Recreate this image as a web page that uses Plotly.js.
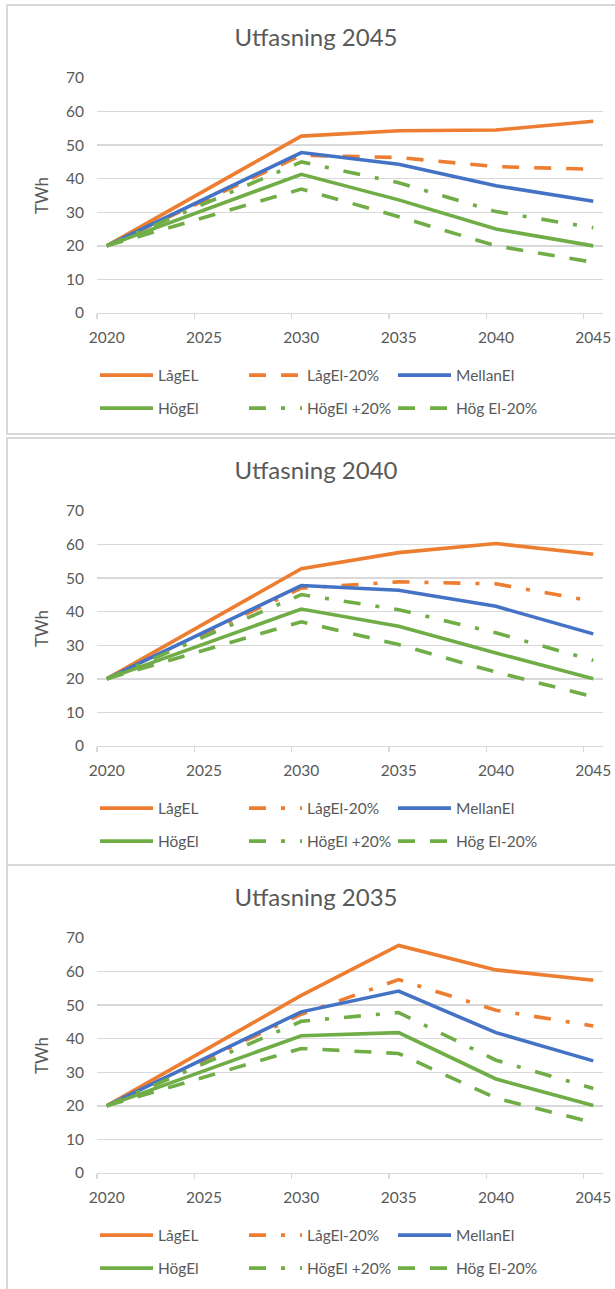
<!DOCTYPE html>
<html>
<head>
<meta charset="utf-8">
<script src="https://cdn.plot.ly/plotly-3.0.1.min.js"></script>
<style>
  html, body { margin: 0; padding: 0; background: #ffffff; }
  body { width: 615px; height: 1289px; overflow: hidden; position: relative; }
  .panel { position: absolute; left: 6px; width: 622px; border: 2px solid #d9d9d9; box-sizing: border-box; background: #fff; overflow: hidden; }
  .chart { position: absolute; left: 0; top: 0; }
</style>
</head>
<body>
<div class="panel" id="p1" style="top:4px;height:431px;"><div class="chart" id="c1"></div></div>
<div class="panel" id="p2" style="top:437px;height:429px;"><div class="chart" id="c2"></div></div>
<div class="panel" id="p3" style="top:864px;height:440px;"><div class="chart" id="c3"></div></div>
<script>
// ---- Data ----
const years = [2020, 2030, 2035, 2040, 2045];
const tickYears = [2020, 2025, 2030, 2035, 2040, 2045];
const yTicks = [0, 10, 20, 30, 40, 50, 60, 70];
const seriesNames = ["LågEL", "LågEl-20%", "MellanEl", "HögEl", "HögEl +20%", "Hög El-20%"];
const panelTitles = ["Utfasning 2045", "Utfasning 2040", "Utfasning 2035"];

// Utfasning 2045
const u2045_lagEL        = [20, 52.7, 54.3, 54.5, 57.1];
const u2045_lagEl20      = [20, 47.0, 46.3, 43.6, 42.8];
const u2045_mellanEl     = [20, 47.8, 44.3, 37.9, 33.3];
const u2045_hogEl        = [20, 41.3, 33.7, 25.0, 20.0];
const u2045_hogElPlus20  = [20, 45.0, 38.8, 30.2, 25.4];
const u2045_hogElMinus20 = [20, 36.9, 28.7, 20.0, 15.1];

// Utfasning 2040
const u2040_lagEL        = [20, 52.8, 57.6, 60.3, 57.1];
const u2040_lagEl20      = [20, 47.0, 48.9, 48.3, 43.1];
const u2040_mellanEl     = [20, 47.8, 46.4, 41.6, 33.4];
const u2040_hogEl        = [20, 40.8, 35.7, 27.7, 20.0];
const u2040_hogElPlus20  = [20, 45.1, 40.6, 33.7, 25.5];
const u2040_hogElMinus20 = [20, 37.0, 30.2, 22.0, 14.7];

// Utfasning 2035
const u2035_lagEL        = [20, 52.9, 67.8, 60.5, 57.4];
const u2035_lagEl20      = [20, 47.3, 57.6, 48.5, 43.8];
const u2035_mellanEl     = [20, 48.0, 54.2, 41.8, 33.4];
const u2035_hogEl        = [20, 40.9, 41.8, 28.0, 20.1];
const u2035_hogElPlus20  = [20, 45.2, 47.8, 33.6, 25.2];
const u2035_hogElMinus20 = [20, 37.1, 35.6, 22.3, 15.0];

// ---- Styles ----
const ORANGE = "#ED7D31", BLUE = "#4472C4", GREEN = "#70AD47";
const TXT = "#595959", GRID = "#D9D9D9";
const FONT = "Lato, 'Open Sans', sans-serif";
const DASH = "17px,15px";
const DASHDOT = "17px,15px,4px,15px";
const LW = 3.6;

function makeTraces(vals, lagDash) {
  const colors = [ORANGE, ORANGE, BLUE, GREEN, GREEN, GREEN];
  const dashes = ["solid", lagDash, "solid", "solid", DASHDOT, DASH];
  return vals.map((v, i) => ({
    type: "scatter", mode: "lines", x: years, y: v, name: seriesNames[i],
    line: { color: colors[i], width: LW, dash: dashes[i] },
    legend: i < 3 ? "legend" : "legend2",
    hoverinfo: "skip"
  }));
}

const W = 620;
function makeLayout(title, h) {
  const t = 72, ph = 235;
  const legCommon = {
    orientation: "h", xref: "container", yref: "container",
    xanchor: "left", yanchor: "middle", x: 87 / W,
    entrywidthmode: "pixels", entrywidth: 81, itemwidth: 53,
    font: { family: FONT, size: 15.5, color: TXT },
    bgcolor: "rgba(0,0,0,0)", traceorder: "normal", tracegroupgap: 0
  };
  return {
    width: W, height: h,
    margin: { l: 89, r: W - 89 - 506, t: t, b: h - t - ph, pad: 0 },
    paper_bgcolor: "#ffffff", plot_bgcolor: "#ffffff",
    font: { family: FONT, size: 15.5, color: TXT },
    title: { text: title, xref: "container", x: 308 / W, xanchor: "center",
             yref: "container", y: 1 - 32 / h, yanchor: "middle",
             font: { family: FONT, size: 24, color: TXT } },
    xaxis: {
      type: "linear", range: [2019.5, 2045.5], tickmode: "array", tickvals: tickYears,
      ticktext: tickYears.map(String), ticks: "", showgrid: false, zeroline: false,
      showline: true, linecolor: GRID, linewidth: 1.3, ticklabelstandoff: 10,
      tickfont: { family: FONT, size: 15.5, color: TXT },
      minor: { tickmode: "linear", tick0: 2019.5, dtick: 5, ticks: "outside", ticklen: 5,
               tickcolor: GRID, tickwidth: 1.3, showgrid: false }
    },
    yaxis: {
      range: [0, 70], tickmode: "array", tickvals: yTicks, ticks: "", showline: false,
      showgrid: true, gridcolor: GRID, gridwidth: 1.3, zeroline: false,
      ticklabelstandoff: 12, tickfont: { family: FONT, size: 15.5, color: TXT },
      title: { text: "TWh", standoff: 13, font: { family: FONT, size: 17, color: TXT } }
    },
    legend: Object.assign({}, legCommon, { y: 1 - 369.5 / h }),
    legend2: Object.assign({}, legCommon, { y: 1 - 402.5 / h }),
    showlegend: true
  };
}

const cfg = { displayModeBar: false, staticPlot: true };
Plotly.newPlot("c1",
  makeTraces([u2045_lagEL, u2045_lagEl20, u2045_mellanEl, u2045_hogEl, u2045_hogElPlus20, u2045_hogElMinus20], DASH),
  makeLayout(panelTitles[0], 427), cfg);
Plotly.newPlot("c2",
  makeTraces([u2040_lagEL, u2040_lagEl20, u2040_mellanEl, u2040_hogEl, u2040_hogElPlus20, u2040_hogElMinus20], DASHDOT),
  makeLayout(panelTitles[1], 425), cfg);
Plotly.newPlot("c3",
  makeTraces([u2035_lagEL, u2035_lagEl20, u2035_mellanEl, u2035_hogEl, u2035_hogElPlus20, u2035_hogElMinus20], DASHDOT),
  makeLayout(panelTitles[2], 436), cfg);
</script>
</body>
</html>
